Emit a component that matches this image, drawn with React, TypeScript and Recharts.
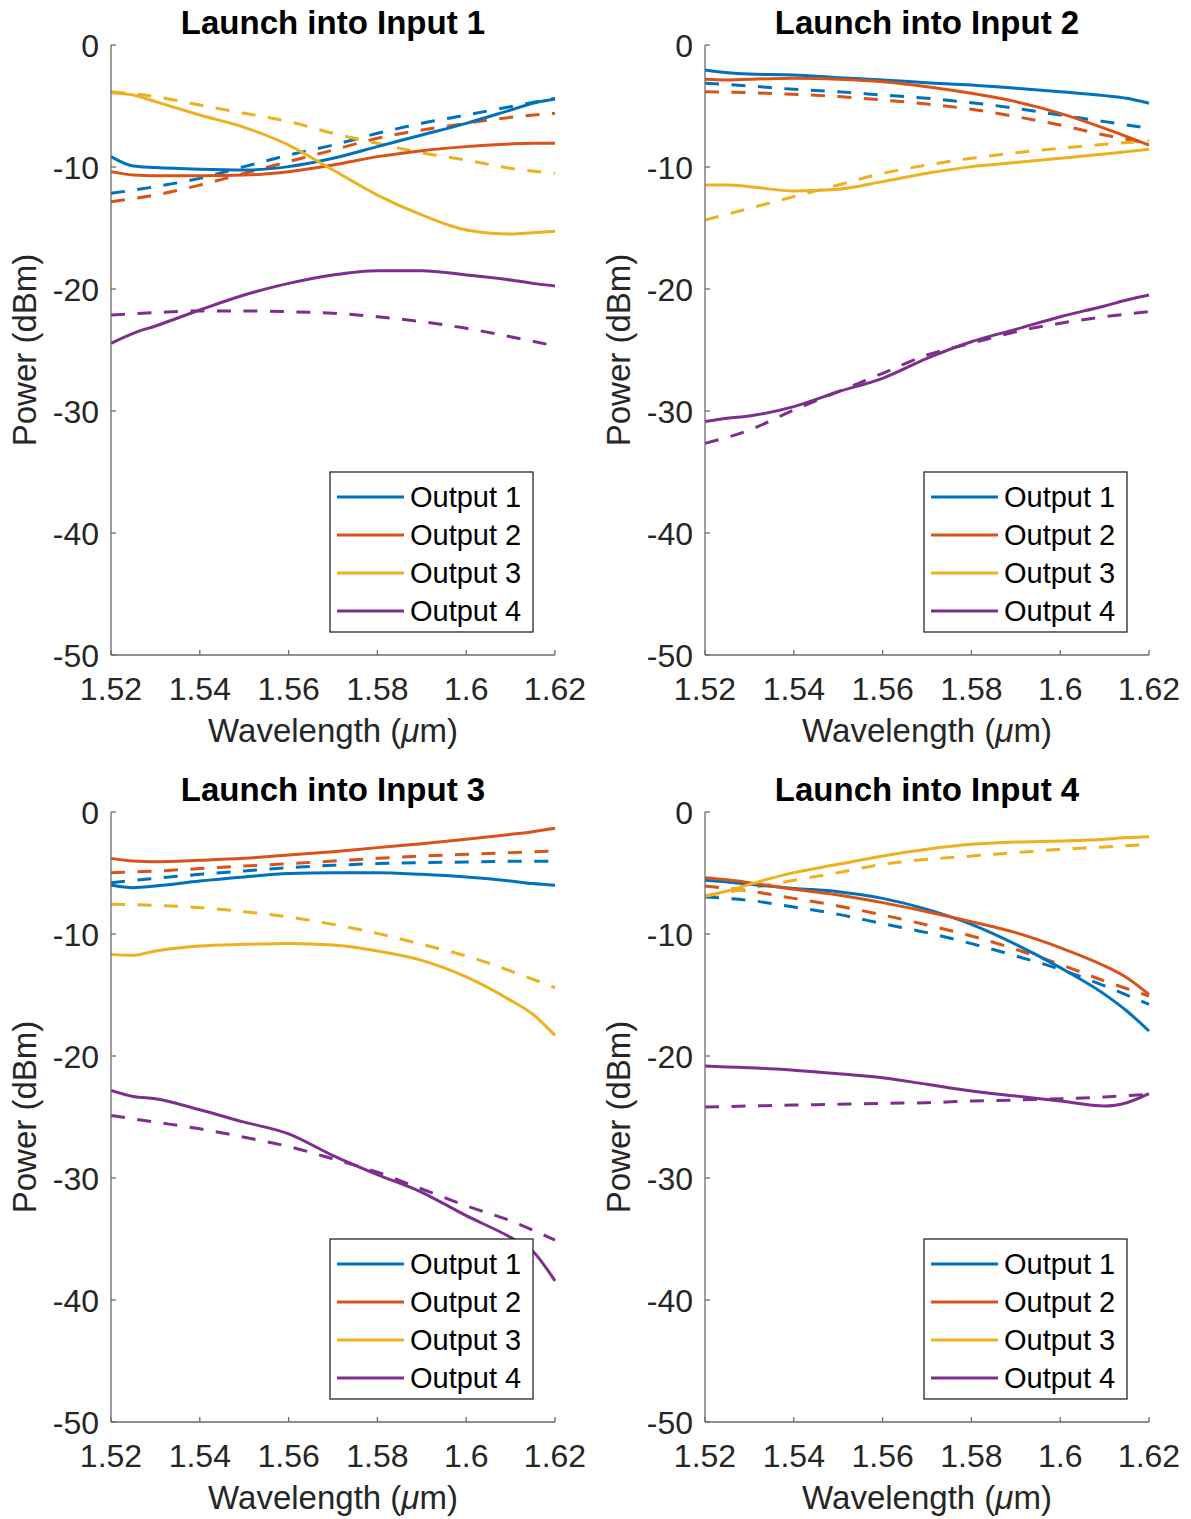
// Four-panel transmission plot: measured (solid) vs simulated (dashed) power
// at each output port, for launch into each of the 4 inputs.
import { LineChart, Line, XAxis, YAxis } from 'recharts'

// wavelength grids (µm) — measured curves read with two extra edge points
const WL_MEAS = [1.52, 1.525, 1.53, 1.54, 1.55, 1.56, 1.57, 1.58, 1.59, 1.6, 1.61, 1.615, 1.62]
const WL_SIM = [1.52, 1.53, 1.54, 1.55, 1.56, 1.57, 1.58, 1.59, 1.6, 1.61, 1.62]

const X_TICKS = [1.52, 1.54, 1.56, 1.58, 1.6, 1.62]
const Y_TICKS = [0, -10, -20, -30, -40, -50]

const OUTPUTS = ['Output 1', 'Output 2', 'Output 3', 'Output 4']
const COLORS = ['#0072BD', '#D95319', '#EDB120', '#7E2F8E']
const TITLES = ['Launch into Input 1', 'Launch into Input 2', 'Launch into Input 3', 'Launch into Input 4']

// Input 1
const in1_out1 = [-9.15, -9.92, -10.05, -10.19, -10.25, -9.97, -9.29, -8.33, -7.38, -6.42, -5.33, -4.78, -4.43]
const in1_out2 = [-10.38, -10.66, -10.71, -10.71, -10.66, -10.38, -9.84, -9.15, -8.66, -8.33, -8.11, -8.06, -8.06]
const in1_out3 = [-3.91, -4.1, -4.64, -5.74, -6.75, -8.2, -10.25, -12.3, -13.93, -15.16, -15.49, -15.38, -15.27]
const in1_out4 = [-24.45, -23.63, -23.03, -21.72, -20.49, -19.54, -18.85, -18.5, -18.5, -18.85, -19.26, -19.54, -19.75]
const in1_out1_sim = [-12.16, -11.61, -10.93, -9.97, -9.02, -8.2, -7.24, -6.42, -5.74, -5.05, -4.37]
const in1_out2_sim = [-12.84, -12.3, -11.48, -10.52, -9.56, -8.61, -7.65, -6.97, -6.42, -5.93, -5.6]
const in1_out3_sim = [-3.83, -4.23, -4.92, -5.6, -6.28, -7.24, -8.06, -8.83, -9.43, -10.11, -10.52]
const in1_out4_sim = [-22.13, -21.94, -21.8, -21.8, -21.86, -21.99, -22.27, -22.68, -23.22, -23.91, -24.67]

// Input 2
const in2_out1 = [-2.05, -2.27, -2.38, -2.46, -2.68, -2.87, -3.09, -3.28, -3.55, -3.83, -4.15, -4.37, -4.78]
const in2_out2 = [-2.81, -2.87, -2.81, -2.73, -2.81, -3.01, -3.42, -3.96, -4.64, -5.6, -6.83, -7.51, -8.2]
const in2_out3 = [-11.48, -11.48, -11.61, -11.97, -11.83, -11.2, -10.52, -9.97, -9.64, -9.29, -8.93, -8.74, -8.55]
const in2_out4 = [-30.87, -30.6, -30.41, -29.64, -28.42, -27.32, -25.68, -24.32, -23.31, -22.27, -21.39, -20.9, -20.49]
const in2_out1_sim = [-3.14, -3.36, -3.63, -3.83, -4.1, -4.37, -4.73, -5.19, -5.74, -6.28, -6.83]
const in2_out2_sim = [-3.83, -3.91, -4.04, -4.23, -4.51, -4.84, -5.27, -5.87, -6.56, -7.38, -8.06]
const in2_out3_sim = [-14.34, -13.39, -12.43, -11.48, -10.52, -9.84, -9.29, -8.83, -8.47, -8.14, -7.87]
const in2_out4_sim = [-32.65, -31.56, -29.92, -28.42, -26.91, -25.41, -24.45, -23.5, -22.81, -22.27, -21.86]

// Input 3
const in3_out1 = [-5.98, -6.2, -6.07, -5.66, -5.33, -5.05, -4.97, -4.97, -5.11, -5.33, -5.66, -5.87, -6.01]
const in3_out2 = [-3.8, -4.02, -4.07, -3.96, -3.8, -3.52, -3.25, -2.92, -2.6, -2.24, -1.83, -1.61, -1.34]
const in3_out3 = [-11.67, -11.75, -11.39, -10.98, -10.85, -10.77, -10.9, -11.39, -12.16, -13.52, -15.44, -16.58, -18.31]
const in3_out4 = [-22.82, -23.32, -23.51, -24.41, -25.42, -26.38, -28.16, -29.72, -31.17, -33.09, -34.87, -36.0, -38.43]
const in3_out1_sim = [-5.79, -5.44, -5.11, -4.84, -4.56, -4.37, -4.23, -4.15, -4.1, -4.04, -4.04]
const in3_out2_sim = [-4.97, -4.84, -4.64, -4.43, -4.23, -4.02, -3.8, -3.61, -3.47, -3.33, -3.2]
const in3_out3_sim = [-7.57, -7.65, -7.84, -8.17, -8.61, -9.21, -9.95, -10.85, -11.8, -13.03, -14.4]
const in3_out4_sim = [-24.88, -25.42, -25.97, -26.66, -27.42, -28.43, -29.53, -30.9, -32.27, -33.51, -35.09]

// Input 4
const in4_out1 = [-5.6, -5.74, -5.93, -6.26, -6.53, -7.08, -7.98, -9.21, -10.85, -12.76, -14.95, -16.31, -17.95]
const in4_out2 = [-5.38, -5.55, -5.79, -6.34, -6.8, -7.43, -8.17, -8.99, -9.89, -11.12, -12.62, -13.58, -14.95]
const in4_out3 = [-6.89, -6.48, -5.93, -4.97, -4.29, -3.61, -3.06, -2.65, -2.46, -2.38, -2.24, -2.1, -2.02]
const in4_out4 = [-20.82, -20.9, -20.96, -21.17, -21.45, -21.78, -22.32, -22.87, -23.28, -23.69, -24.1, -23.83, -23.09]
const in4_out1_sim = [-6.97, -7.24, -7.79, -8.39, -9.15, -9.89, -10.79, -11.8, -12.9, -14.26, -15.77]
const in4_out2_sim = [-6.07, -6.48, -7.08, -7.7, -8.44, -9.26, -10.16, -11.26, -12.49, -13.85, -15.08]
const in4_out3_sim = [-6.89, -6.26, -5.6, -4.97, -4.29, -3.88, -3.61, -3.33, -3.06, -2.87, -2.65]
const in4_out4_sim = [-24.18, -24.1, -24.02, -23.96, -23.88, -23.83, -23.69, -23.61, -23.5, -23.36, -23.14]

const MEAS = [
  [in1_out1, in1_out2, in1_out3, in1_out4],
  [in2_out1, in2_out2, in2_out3, in2_out4],
  [in3_out1, in3_out2, in3_out3, in3_out4],
  [in4_out1, in4_out2, in4_out3, in4_out4],
]
const SIM = [
  [in1_out1_sim, in1_out2_sim, in1_out3_sim, in1_out4_sim],
  [in2_out1_sim, in2_out2_sim, in2_out3_sim, in2_out4_sim],
  [in3_out1_sim, in3_out2_sim, in3_out3_sim, in3_out4_sim],
  [in4_out1_sim, in4_out2_sim, in4_out3_sim, in4_out4_sim],
]

// layout (px, relative to each panel)
const PANEL_W = 595
const PANEL_H = 767
const PLOT_LEFT = 111
const PLOT_BOTTOM = 655
const FONT = '"Liberation Sans", Arial, Helvetica, sans-serif'
const TEXT = '#262626'
const AXIS = '#6b6b6b'

const toRows = (wl: number[], series: number[][]) =>
  wl.map((w, i) => ({ wl: w, o1: series[0][i], o2: series[1][i], o3: series[2][i], o4: series[3][i] }))

function XTick(props: any) {
  const { x, payload } = props
  return (
    <g>
      <line x1={x} y1={PLOT_BOTTOM} x2={x} y2={PLOT_BOTTOM - 5} stroke={AXIS} strokeWidth={1.3} />
      <text x={x} y={700} textAnchor="middle" fontSize={32} fill={TEXT} fontFamily={FONT}>
        {String(payload.value)}
      </text>
    </g>
  )
}

function YTick(props: any) {
  const { y, payload } = props
  return (
    <g>
      <line x1={PLOT_LEFT} y1={y} x2={PLOT_LEFT + 5} y2={y} stroke={AXIS} strokeWidth={1.3} />
      <text x={99} y={y} dy="0.36em" textAnchor="end" fontSize={32} fill={TEXT} fontFamily={FONT}>
        {String(payload.value)}
      </text>
    </g>
  )
}

function Panel({ idx, left, top }: { idx: number; left: number; top: number }) {
  const meas = toRows(WL_MEAS, MEAS[idx])
  const sim = toRows(WL_SIM, SIM[idx])
  const keys = ['o1', 'o2', 'o3', 'o4']
  return (
    <div style={{ position: 'absolute', left, top, width: PANEL_W, height: PANEL_H }}>
      <LineChart width={PANEL_W} height={PANEL_H} margin={{ top: 45, right: 40, bottom: 52, left: 11 }}>
        <XAxis
          type="number"
          dataKey="wl"
          domain={[1.52, 1.62]}
          ticks={X_TICKS}
          allowDuplicatedCategory={false}
          height={60}
          axisLine={{ stroke: AXIS, strokeWidth: 1.3 }}
          tickLine={false}
          tick={<XTick />}
          interval={0}
        />
        <YAxis
          type="number"
          domain={[-50, 0]}
          ticks={Y_TICKS}
          width={100}
          axisLine={{ stroke: AXIS, strokeWidth: 1.3 }}
          tickLine={false}
          tick={<YTick />}
          interval={0}
        />
        {keys.map((k, i) => (
          <Line
            key={'sim' + k}
            data={sim}
            dataKey={k}
            type="monotone"
            stroke={COLORS[i]}
            strokeWidth={3}
            strokeDasharray="14 12.5"
            dot={false}
            legendType="none"
            isAnimationActive={false}
          />
        ))}
        {keys.map((k, i) => (
          <Line
            key={'meas' + k}
            data={meas}
            dataKey={k}
            type="monotone"
            stroke={COLORS[i]}
            strokeWidth={3}
            dot={false}
            isAnimationActive={false}
          />
        ))}
      </LineChart>
      <svg
        width={PANEL_W}
        height={PANEL_H}
        style={{ position: 'absolute', left: 0, top: 0, pointerEvents: 'none' }}
        fontFamily={FONT}
      >
        <text x={333} y={34} textAnchor="middle" fontSize={33} fontWeight="bold" fill="#000">
          {TITLES[idx]}
        </text>
        <text x={333} y={742} textAnchor="middle" fontSize={33} fill={TEXT}>
          Wavelength (<tspan fontStyle="italic">μ</tspan>m)
        </text>
        <text x={36} y={350} textAnchor="middle" fontSize={33} fill={TEXT} transform="rotate(-90 36 350)">
          Power (dBm)
        </text>
        {/* legend box — measured curves only */}
        <rect x={330} y={472} width={203} height={160} fill="#fff" stroke={TEXT} strokeWidth={1.3} />
        {OUTPUTS.map((name, i) => (
          <g key={name}>
            <line x1={337} x2={404} y1={497 + i * 38} y2={497 + i * 38} stroke={COLORS[i]} strokeWidth={3} />
            <text x={410} y={497 + i * 38} dy="0.36em" fontSize={29} fill="#000">
              {name}
            </text>
          </g>
        ))}
      </svg>
    </div>
  )
}

export default function App() {
  return (
    <div style={{ position: 'absolute', left: 0, top: 0, width: 1191, height: 1519, background: '#fff' }}>
      <Panel idx={0} left={0} top={0} />
      <Panel idx={1} left={594} top={0} />
      <Panel idx={2} left={0} top={767} />
      <Panel idx={3} left={594} top={767} />
    </div>
  )
}
